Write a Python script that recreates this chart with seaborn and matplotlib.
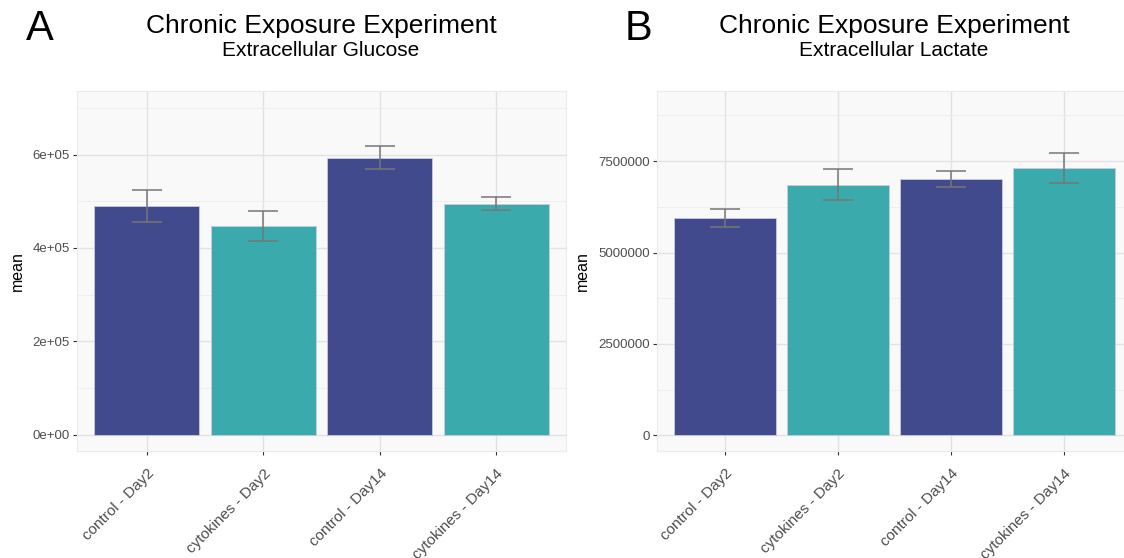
import numpy as np
import pandas as pd
import matplotlib
matplotlib.use("Agg")
import matplotlib.pyplot as plt
from matplotlib.ticker import FuncFormatter, MultipleLocator
import seaborn as sns

categories = ["control - Day2", "cytokines - Day2", "control - Day14", "cytokines - Day14"]
colors = ["#414A8C", "#3AAAAC", "#414A8C", "#3AAAAC"]

glucose_mean = [4.89e5, 4.47e5, 5.93e5, 4.94e5]
glucose_lo = [4.56e5, 4.15e5, 5.70e5, 4.81e5]
glucose_hi = [5.24e5, 4.79e5, 6.18e5, 5.08e5]

lactate_mean = [5.94e6, 6.84e6, 7.02e6, 7.30e6]
lactate_lo = [5.69e6, 6.43e6, 6.80e6, 6.91e6]
lactate_hi = [6.19e6, 7.28e6, 7.24e6, 7.71e6]

sns.set_theme(style="white")
plt.rcParams["font.family"] = ["Liberation Sans", "DejaVu Sans"]

W, H = 1124, 558
fig = plt.figure(figsize=(W / 100, H / 100), dpi=100)

def px_axes(left, right, top, bottom):
    return fig.add_axes([left / W, 1 - bottom / H, (right - left) / W, (bottom - top) / H])

axA = px_axes(77, 566, 91, 451)
axB = px_axes(657, 1132, 91, 451)

def panel(ax, mean, lo, hi, ylim, major, minor, fmt, title, subtitle, title_x):
    df = pd.DataFrame({"group": categories, "mean": mean})
    sns.barplot(data=df, x="group", y="mean", hue="group", palette=colors,
                width=0.9, legend=False, ax=ax, saturation=1,
                edgecolor="#C8CCE0", linewidth=0.6, zorder=3)
    x = np.arange(len(categories))
    m = np.array(mean)
    ax.errorbar(x, m, yerr=[m - np.array(lo), np.array(hi) - m], fmt="none",
                ecolor="#767676", elinewidth=1.1, capsize=10.5, capthick=1.1, zorder=4)
    ax.set_xlim(-0.6, len(categories) - 0.4)
    ax.set_ylim(*ylim)
    ax.set_facecolor("#F9F9F9")
    ax.yaxis.set_major_locator(MultipleLocator(major))
    ax.yaxis.set_minor_locator(MultipleLocator(minor))
    ax.yaxis.set_major_formatter(FuncFormatter(fmt))
    ax.grid(True, which="major", color="#E2E2E2", linewidth=1.0, zorder=0)
    ax.grid(True, which="minor", axis="y", color="#EDEDED", linewidth=0.6, zorder=0)
    ax.set_axisbelow(True)
    for s in ax.spines.values():
        s.set_color("#EBEBEB")
        s.set_linewidth(0.8)
    ax.tick_params(axis="both", which="major", length=3, width=0.8, color="#333333",
                   labelcolor="#4D4D4D", labelsize=9.5, pad=2, left=True, bottom=True)
    ax.tick_params(axis="x", which="major", pad=8)
    ax.tick_params(axis="y", which="minor", length=0)
    ax.set_xticks(x)
    ax.set_xticklabels(categories, rotation=45, ha="right", rotation_mode="anchor", fontsize=11)
    ax.set_xlabel("")
    ax.set_ylabel("mean", fontsize=11.5, color="black", labelpad=6)
    fig.text(title_x / W, 1 - 26 / H, title, ha="center", va="center", fontsize=19, color="black")
    fig.text(title_x / W, 1 - 50 / H, subtitle, ha="center", va="center", fontsize=15, color="black")
    return ax

panel(axA, glucose_mean, glucose_lo, glucose_hi, (-0.35e5, 7.36e5), 2e5, 1e5,
      lambda v, p: f"{v:.0e}", "Chronic Exposure Experiment", "Extracellular Glucose", 321)
panel(axB, lactate_mean, lactate_lo, lactate_hi, (-0.43e6, 9.42e6), 2.5e6, 1.25e6,
      lambda v, p: f"{v:.0f}", "Chronic Exposure Experiment", "Extracellular Lactate", 894)

fig.text(40 / W, 1 - 29 / H, "A", ha="center", va="center", fontsize=30, color="black")
fig.text(639 / W, 1 - 29 / H, "B", ha="center", va="center", fontsize=30, color="black")

fig.savefig("out.png", dpi=100)
